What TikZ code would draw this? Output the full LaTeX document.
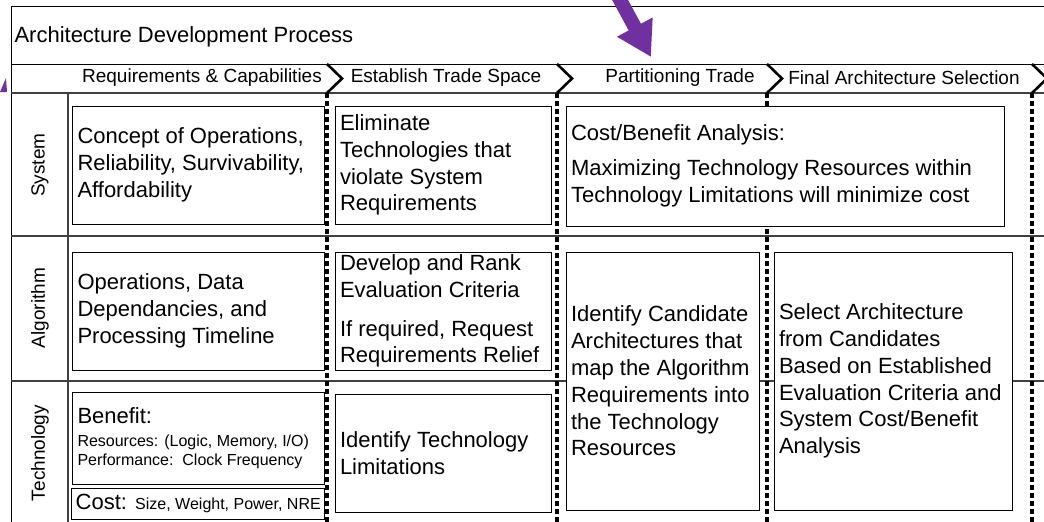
\documentclass[tikz,border=0pt]{standalone}
\usepackage{fontspec}
\setmainfont{Liberation Sans}
\usetikzlibrary{arrows.meta,positioning}
\definecolor{callout}{HTML}{7030A0}
\definecolor{lanerule}{HTML}{404040}
\newcommand{\detailfont}{\fontsize{16}{19}\selectfont}
\tikzset{
  cell_box/.style={draw=black,fill=white,line width=0.8pt,inner xsep=5pt,inner ysep=2pt,
    align=flush left,font=\fontsize{22}{26.8}\selectfont},
  lane_label/.style={rotate=90,font=\fontsize{19}{22}\selectfont},
  stage_label/.style={font=\fontsize{19}{22}\selectfont},
  lane_line/.style={draw=lanerule,line width=1.5pt},
  stage_split/.style={line width=3.2pt,dash pattern=on 5pt off 3pt},
  chevron/.style={line width=2.6pt,line join=miter},
  big_arr/.style={-{Triangle[length=34pt,width=38pt]},draw=callout,line width=14pt},
}

\begin{document}
\begin{tikzpicture}[x=1pt,y=-1pt]
  \useasboundingbox (0,0) rectangle (1044,522);
  \clip (0,0) rectangle (1044,522);

  % frame, title band and stage band
  \draw[line width=1pt] (11,522) -- (11,6) -- (1044,6);
  \draw[line width=1pt] (11,64) -- (1044,64);
  \draw[lane_line,line width=2pt] (11,93) -- (1044,93);
  \node[anchor=west,font=\fontsize{22}{26.8}\selectfont] (title) at (11,37) {Architecture Development Process};

  % lanes
  \draw[lane_line] (68,93) -- (68,522);
  \draw[lane_line] (11,236) -- (1044,236);
  \draw[lane_line] (11,381) -- (1044,381);
  \node[lane_label] (lane_sys) at (40,165) {System};
  \node[lane_label] (lane_alg) at (40,308) {Algorithm};
  \node[lane_label] (lane_tech) at (40,453) {Technology};

  % stage chevrons and splits
  \draw[chevron] (327,64) -- (342,78.5) -- (327,93);
  \draw[chevron] (557,64) -- (572,78.5) -- (557,93);
  \draw[chevron] (767,64) -- (782,78.5) -- (767,93);
  \draw[chevron] (1032,64) -- (1047,78.5) -- (1032,93);
  \draw[stage_split] (327,93) -- (327,522);
  \draw[stage_split] (557,93) -- (557,522);
  \draw[stage_split] (767,93) -- (767,522);
  \draw[stage_split] (1032,93) -- (1032,522);
  \node[stage_label] (st_req) at (202,78) {Requirements \& Capabilities};
  \node[stage_label] (st_space) at (446,78) {Establish Trade Space};
  \node[stage_label] (st_part) at (680,78) {Partitioning Trade};
  \node[stage_label] (st_final) at (904,78) {Final Architecture Selection};

  % system lane
  \node[cell_box,text width=241.5pt,minimum height=118pt] (sys_req) at (198.25,165)
    {Concept of Operations,\\Reliability, Survivability,\\Affordability};
  \node[cell_box,text width=206pt,minimum height=118pt] (sys_space) at (443,165)
    {Eliminate\\Technologies that\\violate System\\Requirements};
  \node[cell_box,text width=428pt,minimum height=120pt] (sys_part) at (785,166)
    {Cost/Benefit Analysis:\\[8pt]Maximizing Technology Resources within\\Technology Limitations will minimize cost};

  % algorithm lane
  \node[cell_box,text width=241.5pt,minimum height=118pt] (alg_req) at (198.25,311)
    {Operations, Data\\Dependancies, and\\Processing Timeline};
  \node[cell_box,text width=206pt,minimum height=118pt] (alg_space) at (443,311)
    {Develop and Rank\\Evaluation Criteria\\[12pt]If required, Request\\Requirements Relief};
  \node[cell_box,text width=183pt,minimum height=258pt] (alg_part) at (662.5,381)
    {Identify Candidate\\Architectures that\\map the Algorithm\\Requirements into\\the Technology\\Resources};
  \node[cell_box,text width=228pt,minimum height=258pt] (alg_final) at (893,381)
    {Select Architecture\\from Candidates\\Based on Established\\Evaluation Criteria and\\System Cost/Benefit\\Analysis};

  % technology lane
  \node[cell_box,text width=241.5pt,minimum height=92pt] (tech_gain) at (198.25,438)
    {Benefit:\\[-3pt]\mbox{\detailfont Resources: (Logic, Memory, I/O)}\\[-8pt]\mbox{\detailfont Performance:\ \ Clock Frequency}};
  \node[cell_box,minimum width=251.5pt,minimum height=31pt,inner xsep=4pt] (tech_cost) at (198.25,503.5)
    {Cost: {\detailfont Size, Weight, Power, NRE}};
  \node[cell_box,text width=206pt,minimum height=118pt] (tech_space) at (443,453)
    {Identify Technology\\Limitations};

  % callout arrows
  \coordinate (arr_tail) at (612,-15);
  \coordinate (arr_tip) at (651,57);
  \draw[big_arr] (arr_tail) -- (arr_tip);
  \fill[callout] (0,92) -- (7,92) -- (6,78) -- cycle;
\end{tikzpicture}
\end{document}
